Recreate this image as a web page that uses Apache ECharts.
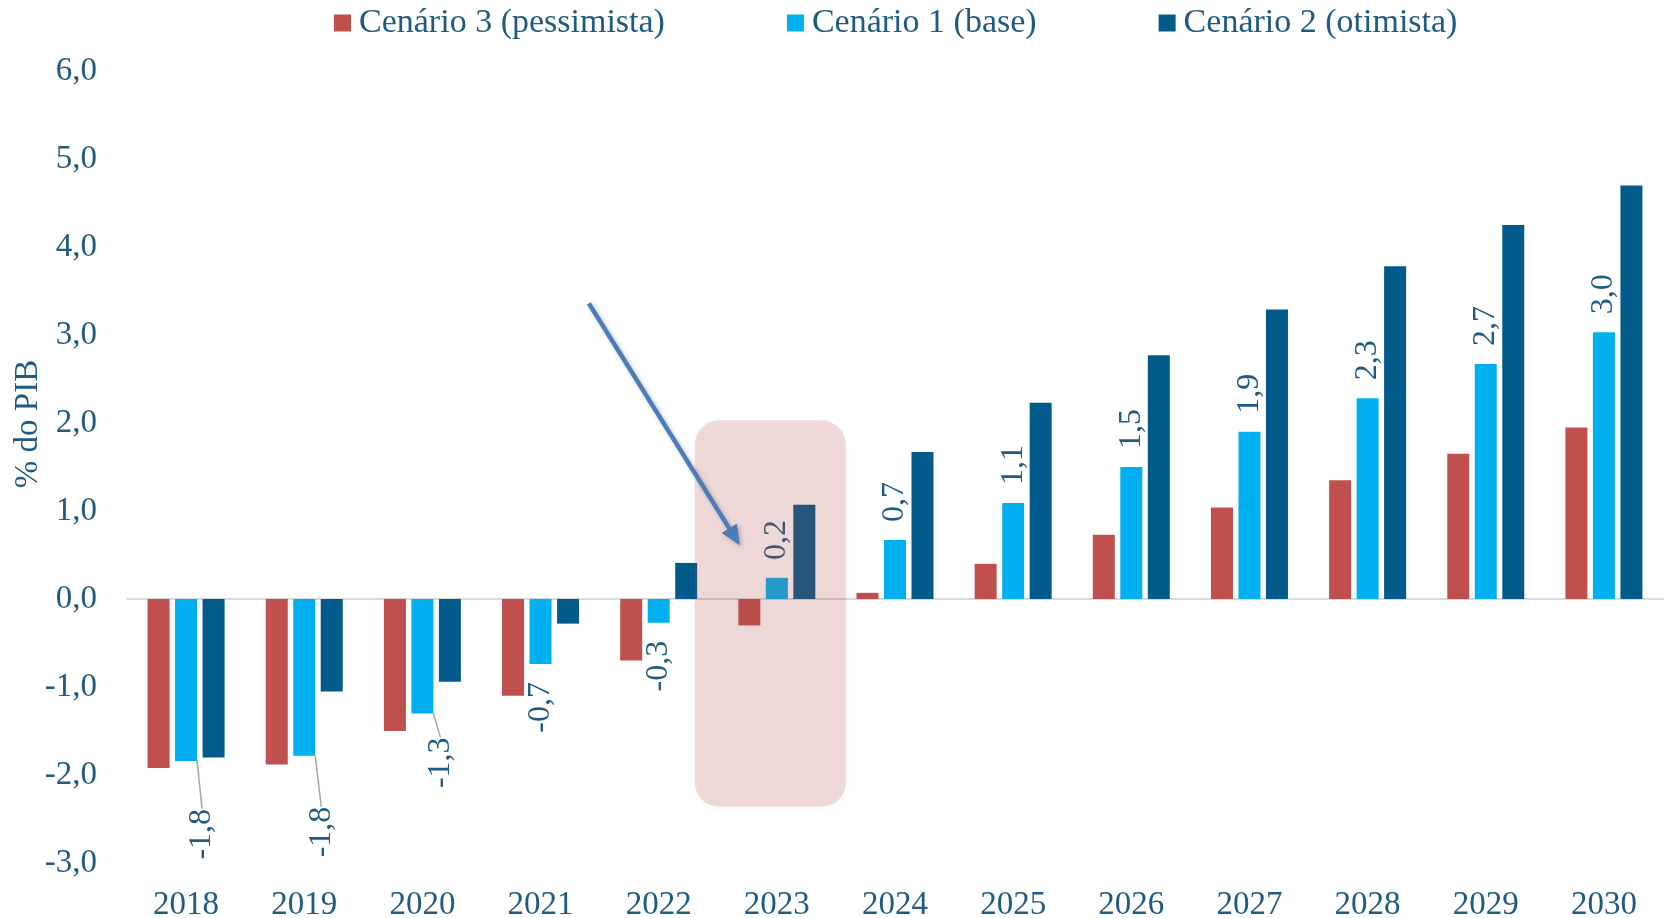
<!DOCTYPE html>
<html>
<head>
<meta charset="utf-8">
<script src="https://cdn.jsdelivr.net/npm/echarts@6/dist/echarts.min.js"></script>
<style>
  html, body { margin: 0; padding: 0; background: #fff; }
  #chart { width: 1669px; height: 918px; }
</style>
</head>
<body>
<div id="chart"></div>
<script>
const years = ['2018', '2019', '2020', '2021', '2022', '2023', '2024', '2025', '2026', '2027', '2028', '2029', '2030'];
const pessimista = [-1.92, -1.88, -1.50, -1.10, -0.70, -0.30, 0.07, 0.40, 0.73, 1.04, 1.35, 1.65, 1.95];
const base = [-1.84, -1.78, -1.30, -0.74, -0.27, 0.24, 0.67, 1.09, 1.50, 1.90, 2.28, 2.67, 3.03];
const otimista = [-1.80, -1.05, -0.94, -0.28, 0.41, 1.07, 1.67, 2.23, 2.77, 3.29, 3.78, 4.25, 4.70];
const seriesNames = ['Cenário 3 (pessimista)', 'Cenário 1 (base)', 'Cenário 2 (otimista)'];
const highlightYear = '2023';

const txt = '#1f5b80';
const font = 'Liberation Serif';
const fmt = v => v.toFixed(1).replace('.', ',');

// labels pushed away from the bar (with leader line), offsets in the rotated label frame
const movedLabels = { 0: { dx: -30, dy: 16 }, 1: { dx: -33, dy: 17 }, 2: { dx: -6, dy: 18 } };

const chart = echarts.init(document.getElementById('chart'));

const baseData = base.map((v, i) => ({
  value: v,
  label: v < 0
    ? { position: 'bottom', align: 'right' }
    : { position: 'top', align: 'left' },
  labelLine: { show: i in movedLabels }
}));

chart.setOption({
  animation: false,
  textStyle: { fontFamily: font },
  legend: {
    top: 1,
    left: 329,
    itemWidth: 17,
    itemHeight: 17,
    itemGap: 122,
    icon: 'rect',
    textStyle: { color: txt, fontSize: 34, fontFamily: font, padding: [0, 0, 0, 3] },
    data: seriesNames
  },
  grid: { left: 127, right: 6, top: 71, bottom: 55, outerBoundsMode: 'none' },
  xAxis: {
    type: 'category',
    data: years,
    axisLine: { lineStyle: { color: '#d9d9d9', width: 2 } },
    axisTick: { show: false },
    axisLabel: { color: txt, fontSize: 33, fontFamily: font, margin: 26 }
  },
  yAxis: {
    type: 'value',
    min: -3,
    max: 6,
    interval: 1,
    name: '% do PIB',
    nameLocation: 'middle',
    nameGap: 82,
    nameMoveOverlap: false,
    nameTextStyle: { color: txt, fontSize: 33, fontFamily: font, padding: [0, 0, 0, 86] },
    splitLine: { show: false },
    axisLine: { show: false },
    axisTick: { show: false },
    axisLabel: { color: txt, fontSize: 33, fontFamily: font, margin: 30, formatter: fmt }
  },
  series: [
    {
      name: seriesNames[0], type: 'bar', data: pessimista,
      barWidth: 22, barGap: '25%',
      itemStyle: { color: '#c0504d' }
    },
    {
      name: seriesNames[1], type: 'bar', data: baseData,
      barWidth: 22, barGap: '25%',
      itemStyle: { color: '#00b0f0' },
      label: {
        show: true, rotate: 90, distance: 18, verticalAlign: 'middle',
        color: txt, fontSize: 32, fontFamily: font,
        formatter: p => fmt(p.value)
      },
      labelLine: { show: false, lineStyle: { color: '#a6a6a6', width: 1.5 } },
      labelLayout: p => movedLabels[p.dataIndex] || {}
    },
    {
      name: seriesNames[2], type: 'bar', data: otimista,
      barWidth: 22, barGap: '25%',
      itemStyle: { color: '#005b8a' }
    }
  ]
});

// annotation: highlight box around 2023 and the arrow pointing at it
const topLeft = chart.convertToPixel({ gridIndex: 0 }, [highlightYear, 2.03]);
const botRight = chart.convertToPixel({ gridIndex: 0 }, [highlightYear, -2.36]);
const cx = topLeft[0];
const a0 = chart.convertToPixel({ gridIndex: 0 }, [highlightYear, 3.36]);
const a1 = chart.convertToPixel({ gridIndex: 0 }, [highlightYear, 0.61]);
const sx = cx - 188, sy = a0[1], ex = cx - 37, ey = a1[1];
const ang = Math.atan2(ey - sy, ex - sx);
const hl = 20, hw = 9;
const bx = ex - hl * Math.cos(ang), by = ey - hl * Math.sin(ang);
const px = -Math.sin(ang), py = Math.cos(ang);

chart.setOption({
  graphic: [
    {
      type: 'rect', z: 100,
      shape: { x: cx - 82, y: topLeft[1], width: 151, height: botRight[1] - topLeft[1], r: 24 },
      style: {
        fill: 'rgba(192,80,77,0.2)',
        shadowBlur: 8, shadowColor: 'rgba(0,0,0,0.12)', shadowOffsetY: 3
      }
    },
    {
      type: 'line', z: 101,
      shape: { x1: sx, y1: sy, x2: bx, y2: by },
      style: {
        stroke: '#4a7ebb', lineWidth: 4.5,
        shadowBlur: 4, shadowColor: 'rgba(0,0,0,0.25)', shadowOffsetX: 2, shadowOffsetY: 2
      }
    },
    {
      type: 'polygon', z: 101,
      shape: { points: [[ex, ey], [bx + px * hw, by + py * hw], [bx - px * hw, by - py * hw]] },
      style: {
        fill: '#4a7ebb',
        shadowBlur: 4, shadowColor: 'rgba(0,0,0,0.25)', shadowOffsetX: 2, shadowOffsetY: 2
      }
    }
  ]
});
</script>
</body>
</html>
